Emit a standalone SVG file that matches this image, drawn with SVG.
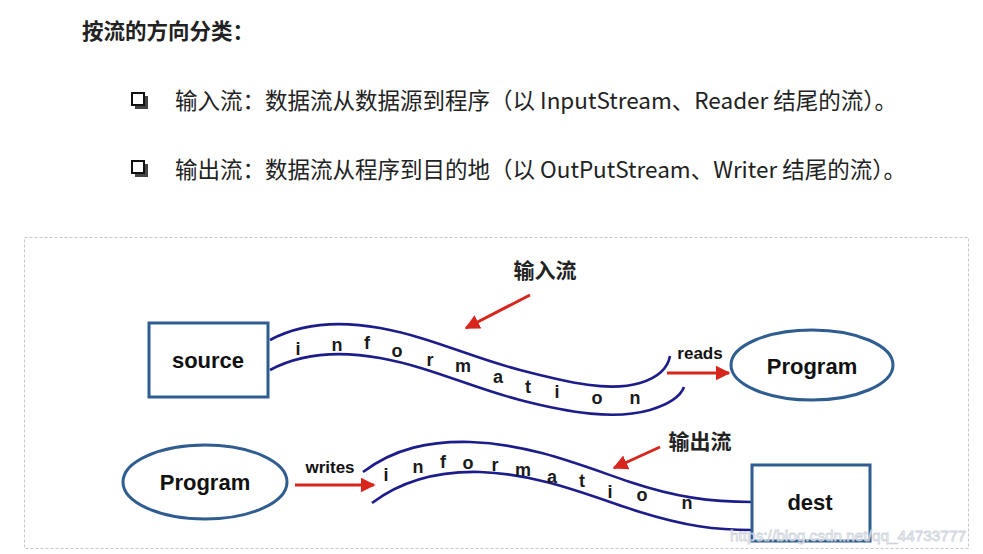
<svg xmlns="http://www.w3.org/2000/svg" width="983" height="554" viewBox="0 0 983 554">
<defs>
<marker id="ah" viewBox="0 0 10 10" refX="9" refY="5" markerWidth="5" markerHeight="5" orient="auto" markerUnits="strokeWidth">
<path d="M0,0 L10,5 L0,10 z" fill="#d8261c"/>
</marker>
<style>
.cjk{font-family:"Noto Sans CJK SC","Liberation Sans",sans-serif;fill:#222;}
.lbl{font-family:"Liberation Sans",Arial,sans-serif;font-weight:bold;fill:#111;text-anchor:middle;dominant-baseline:central;}
.box{fill:#fff;stroke:#2f5d90;stroke-width:3;}
.stream{fill:none;stroke:#1c1c8a;stroke-width:2.6;}
.red{fill:none;stroke:#d8261c;stroke-width:3;marker-end:url(#ah);}
.let{font-family:"Liberation Sans",Arial,sans-serif;font-weight:bold;font-size:18px;fill:#1a1a1a;text-anchor:middle;dominant-baseline:central;}
.bul{fill:#fff;stroke:#111;stroke-width:2;}
</style>
</defs>
<rect width="983" height="554" fill="#fff"/>
<text class="cjk" x="82" y="39" font-size="21.5" font-weight="bold" fill="#111">按流的方向分类：</text>
<g id="bullet1">
<rect x="133" y="94" width="13" height="13" fill="#444" stroke="none" transform="translate(2,2)"/>
<rect class="bul" x="132" y="93" width="12" height="12"/>
<text class="cjk" x="175" y="109" font-size="22.5">输入流：数据流从数据源到程序（以 InputStream、Reader 结尾的流）。</text>
</g>
<g id="bullet2">
<rect x="133" y="162" width="13" height="13" fill="#444" stroke="none" transform="translate(2,2)"/>
<rect class="bul" x="132" y="161" width="12" height="12"/>
<text class="cjk" x="175" y="178" font-size="22.5">输出流：数据流从程序到目的地（以 OutPutStream、Writer 结尾的流）。</text>
</g>
<rect x="24.5" y="237.5" width="944" height="311" fill="none" stroke="#c8c8c8" stroke-width="1" stroke-dasharray="3,2"/>
<g id="connectors">
<path class="stream" d="M270,340 C300,324 335,320 380,328 C430,337 470,357 520,370 C570,383 610,392 640,383 C660,377 668,367 670,356"/>
<path class="stream" d="M270,370 C300,354 335,350 380,358 C430,367 470,387 520,400 C570,413 615,420 650,410 C673,403 681,395 684,387"/>
<path class="red" d="M530,295 L466,328"/>
<path class="red" d="M667,373 L729,373"/>
<path class="red" d="M295,485 L374,485"/>
<path class="stream" d="M363,472 C395,448 430,441 470,442 C530,444 580,465 630,482 C675,497 710,502 752,502"/>
<path class="stream" d="M372,503 C404,479 440,471 480,472 C540,474 590,496 640,512 C685,526 715,530 752,530"/>
<path class="red" d="M660,447 L614,468"/>
</g>
<g id="labels">
<text class="cjk" x="545" y="278" font-size="21" font-weight="bold" text-anchor="middle" fill="#333">输入流</text>
<text class="lbl" x="700" y="353" font-size="17">reads</text>
<text class="lbl" x="330" y="467" font-size="17">writes</text>
<text class="cjk" x="700" y="449" font-size="21" font-weight="bold" text-anchor="middle" fill="#333">输出流</text>
</g>
<g id="stream-in-text">
<text class="let" x="298" y="349">i</text>
<text class="let" x="337" y="345">n</text>
<text class="let" x="367" y="343">f</text>
<text class="let" x="397" y="351">o</text>
<text class="let" x="430" y="360">r</text>
<text class="let" x="463" y="366">m</text>
<text class="let" x="498" y="377">a</text>
<text class="let" x="528" y="387">t</text>
<text class="let" x="557" y="392">i</text>
<text class="let" x="597" y="398">o</text>
<text class="let" x="635" y="398">n</text>
</g>
<g id="stream-out-text">
<text class="let" x="386" y="475">i</text>
<text class="let" x="418" y="467">n</text>
<text class="let" x="443" y="462">f</text>
<text class="let" x="468" y="463">o</text>
<text class="let" x="495" y="465">r</text>
<text class="let" x="523" y="470">m</text>
<text class="let" x="552" y="477">a</text>
<text class="let" x="582" y="481">t</text>
<text class="let" x="610" y="492">i</text>
<text class="let" x="642" y="495">o</text>
<text class="let" x="687" y="503">n</text>
</g>
<g id="source">
<rect class="box" x="149" y="323" width="119" height="74"/>
<text class="lbl" x="208" y="360" font-size="22">source</text>
</g>
<g id="program-in">
<ellipse class="box" cx="812" cy="365" rx="81" ry="35"/>
<text class="lbl" x="812" y="366" font-size="22">Program</text>
</g>
<g id="program-out">
<ellipse class="box" cx="205" cy="482" rx="82" ry="37"/>
<text class="lbl" x="205" y="482" font-size="22">Program</text>
</g>
<g id="dest">
<rect class="box" x="752" y="465" width="118" height="76"/>
<text class="lbl" x="810" y="502" font-size="22">dest</text>
</g>
<text x="730" y="541" font-family="Liberation Sans,Arial,sans-serif" font-size="15" textLength="236" lengthAdjust="spacingAndGlyphs" fill="#ffffff" stroke="#c9cfd8" stroke-width="0.8" opacity="0.9">https://blog.csdn.net/qq_44733777</text>
</svg>
